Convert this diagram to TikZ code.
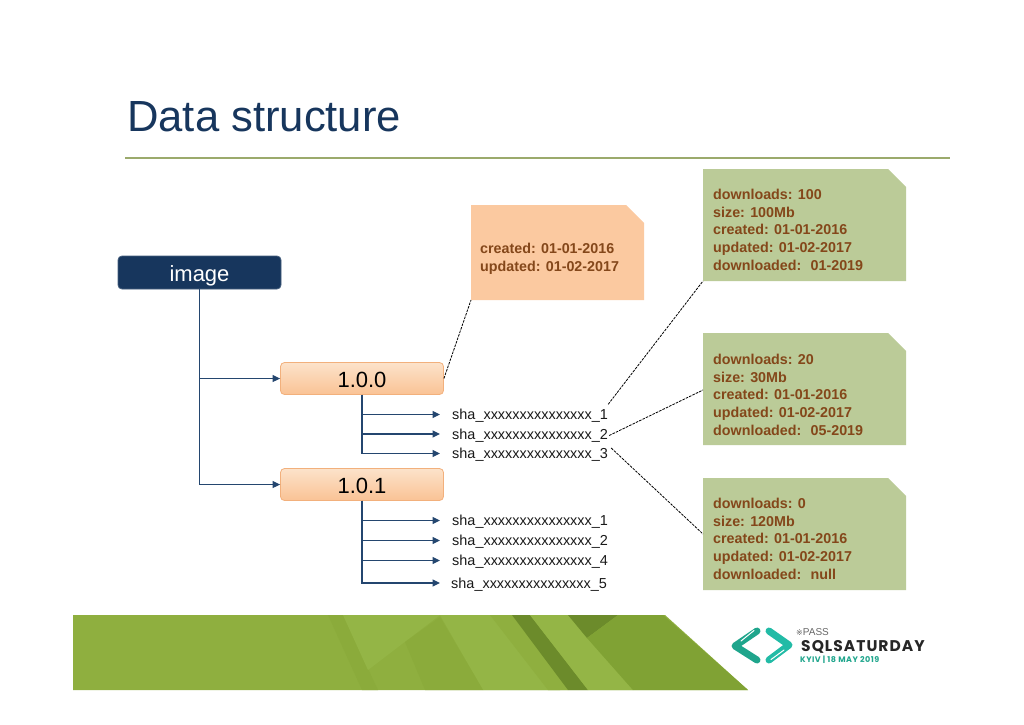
\documentclass[tikz,border=0pt]{standalone}
\usepackage{fontspec}
\setmainfont{Liberation Sans}
\newfontfamily\popp{Poppins}
\newfontfamily\dejav{DejaVu Sans}
\usetikzlibrary{arrows.meta}
\definecolor{navy}{HTML}{17365D}
\definecolor{linkblue}{HTML}{24466F}
\definecolor{rulegreen}{HTML}{9BAA6C}
\definecolor{notegreen}{HTML}{BBCB98}
\definecolor{noteorange}{HTML}{FBC9A0}
\definecolor{notetext}{HTML}{84471A}
\definecolor{verborder}{HTML}{F2B07C}
\definecolor{vertop}{HTML}{FCE2CA}
\definecolor{verbot}{HTML}{FAC395}
\definecolor{bannerbase}{HTML}{8FAF3F}
\definecolor{bannerlight}{HTML}{94B546}
\definecolor{bannermid}{HTML}{8BAB3B}
\definecolor{bannerdark}{HTML}{6C8B2B}
\definecolor{bannerfront}{HTML}{80A234}
\definecolor{tealA}{HTML}{1FA58C}
\definecolor{tealB}{HTML}{22BBA6}
\newcommand{\boxlabel}[1]{\smash{\raisebox{-8.5pt}{#1}}}
\tikzset{
  x=1pt,y=-1pt,
  rootbox/.style={draw=navy!80,fill=navy,rounded corners=4pt,minimum width=163pt,minimum height=33pt,line width=.8pt,text=white,font=\fontsize{22}{24}\selectfont,inner sep=0pt},
  verbox/.style={draw=verborder,top color=vertop,bottom color=verbot,rounded corners=4pt,minimum width=163pt,minimum height=32pt,line width=.8pt,text=black,font=\fontsize{22}{24}\selectfont,inner sep=0pt},
  shatext/.style={anchor=west,font=\fontsize{14.45}{16}\selectfont,inner sep=0pt,minimum height=15pt,text=black!90},
  notebox/.style={anchor=north west,inner sep=0pt,outer sep=0pt,path picture={
    \fill[#1] (path picture bounding box.north west) -- ([xshift=-18pt]path picture bounding box.north east)
      -- ([yshift=-18pt]path picture bounding box.north east) -- (path picture bounding box.south east)
      -- (path picture bounding box.south west) -- cycle;}},
  notetxt/.style={anchor=north west,align=left,inner sep=0pt,text=notetext,font=\fontsize{14.3}{17.7}\bfseries\selectfont},
  link/.style={draw=linkblue,line width=1.2pt,-{Triangle[length=7.5pt,width=7pt]}},
  dashlink/.style={draw=black,line width=.8pt,dash pattern=on 2.6pt off 1.1pt},
}
\begin{document}
\begin{tikzpicture}
\useasboundingbox (0,0) rectangle (1024,724);
% title
\node[anchor=base west,inner sep=0pt,text=navy,font=\fontsize{43.6}{48}\selectfont] (title) at (127,131) {Data structure};
\draw[rulegreen,line width=1.3pt] (125,158) -- (950,158);
% banner
\fill[bannerbase] (73,615) -- (665,615) -- (748,690) -- (73,690) -- cycle;
\fill[bannermid] (328,615) -- (343,615) -- (378,690) -- (362,690) -- cycle;
\fill[bannerlight] (343,615) -- (440,615) -- (368,670) -- cycle;
\fill[bannerlight] (440,615) -- (490,615) -- (560,690) -- (483,690) -- cycle;
\fill[bannermid] (405,642) -- (440,617) -- (483,690) -- (425,690) -- cycle;
\fill[bannermid!60!bannerlight] (490,615) -- (512,615) -- (568,690) -- (548,690) -- cycle;
\fill[bannerdark] (512,615) -- (530,615) -- (588,690) -- (568,690) -- cycle;
\fill[bannerlight] (530,615) -- (568,615) -- (587,638) -- (633,690) -- (588,690) -- cycle;
\fill[bannerdark] (568,615) -- (618,615) -- (587,638) -- cycle;
\fill[bannerfront] (618,615) -- (663,615) -- (748,690) -- (633,690) -- (587,638) -- cycle;
% logo
\draw[tealA,line width=7pt,line cap=round,line join=round] (757,631) -- (735,646) -- (757,660);
\draw[white,line width=1pt,line cap=round] (754,630.5) -- (741,641);
\draw[tealB,line width=7pt,line cap=round,line join=round] (769,631) -- (789,645) -- (769,660);
\draw[white,line width=1pt,line cap=round] (771,659.5) -- (784,650);
\node[anchor=west,inner sep=0pt,text=black!60,font=\fontsize{10}{11}\selectfont] (pass) at (796,632) {{\dejav\fontsize{8}{9}\selectfont ※}PASS};
\node[anchor=west,inner sep=0pt,text=black!85,font=\popp\fontsize{15.5}{17}\selectfont\addfontfeature{LetterSpace=6.5}] (sqls) at (801,647) {\textbf{SQLSATURDAY}};
\node[anchor=west,inner sep=0pt,text=tealA,font=\popp\fontsize{8}{9}\selectfont\addfontfeature{LetterSpace=6}] (kyiv) at (800,660) {\textbf{KYIV | 18 MAY 2019}};
% notes
\node[notebox=noteorange,minimum width=173pt,minimum height=95pt] (noteA) at (471,205) {};
\node[notetxt] (noteAt) at (480,243) {created: 01-01-2016\\updated: 01-02-2017};
\node[notebox=notegreen,minimum width=203pt,minimum height=112pt] (noteB) at (703,169) {};
\node[notetxt] (noteBt) at (713,189) {downloads: 100\\size: 100Mb\\created: 01-01-2016\\updated: 01-02-2017\\downloaded:~ 01-2019};
\node[notebox=notegreen,minimum width=203pt,minimum height=112pt] (noteC) at (703,333) {};
\node[notetxt] (noteCt) at (713,354) {downloads: 20\\size: 30Mb\\created: 01-01-2016\\updated: 01-02-2017\\downloaded:~ 05-2019};
\node[notebox=notegreen,minimum width=203pt,minimum height=112pt] (noteD) at (703,478) {};
\node[notetxt] (noteDt) at (713,498) {downloads: 0\\size: 120Mb\\created: 01-01-2016\\updated: 01-02-2017\\downloaded:~ null};
% tree boxes
\node[rootbox] (image) at (199.5,272.5) {\boxlabel{image}};
\node[verbox] (v100) at (362,378.5) {\boxlabel{1.0.0}};
\node[verbox] (v101) at (362,484.5) {\boxlabel{1.0.1}};
% sha
\node[shatext] (a1) at (452,416) {sha\_xxxxxxxxxxxxxxx\_1};
\node[shatext] (a2) at (452,435.5) {sha\_xxxxxxxxxxxxxxx\_2};
\node[shatext] (a3) at (452,455) {sha\_xxxxxxxxxxxxxxx\_3};
\node[shatext] (b1) at (452,522) {sha\_xxxxxxxxxxxxxxx\_1};
\node[shatext] (b2) at (452,542) {sha\_xxxxxxxxxxxxxxx\_2};
\node[shatext] (b3) at (452,562) {sha\_xxxxxxxxxxxxxxx\_4};
\node[shatext] (b4) at (451,584.5) {sha\_xxxxxxxxxxxxxxx\_5};
% connectors
\draw[link] (image.south) |- (v100.west);
\draw[link] (image.south) |- (v101.west);
\draw[link] (v100.south) |- ([xshift=-12pt,yshift=1.5pt]a1.west);
\draw[link] (v100.south) |- ([xshift=-12pt,yshift=1.5pt]a2.west);
\draw[link] (v100.south) |- ([xshift=-12pt,yshift=1.5pt]a3.west);
\draw[link] (v101.south) |- ([xshift=-12pt,yshift=1.5pt]b1.west);
\draw[link] (v101.south) |- ([xshift=-12pt,yshift=1.5pt]b2.west);
\draw[link] (v101.south) |- ([xshift=-12pt,yshift=1.5pt]b3.west);
\draw[link] (v101.south) |- ([xshift=-11pt,yshift=1.5pt]b4.west);
% dashed
\draw[dashlink] (v100.east) -- (noteA.south west);
\draw[dashlink] ([yshift=4pt]a1.north east) -- (noteB.south west);
\draw[dashlink] ([xshift=1pt]a2.east) -- ([yshift=-1pt]noteC.west);
\draw[dashlink] ([yshift=7pt,xshift=3pt]a3.east) -- (noteD.west);
\end{tikzpicture}
\end{document}
